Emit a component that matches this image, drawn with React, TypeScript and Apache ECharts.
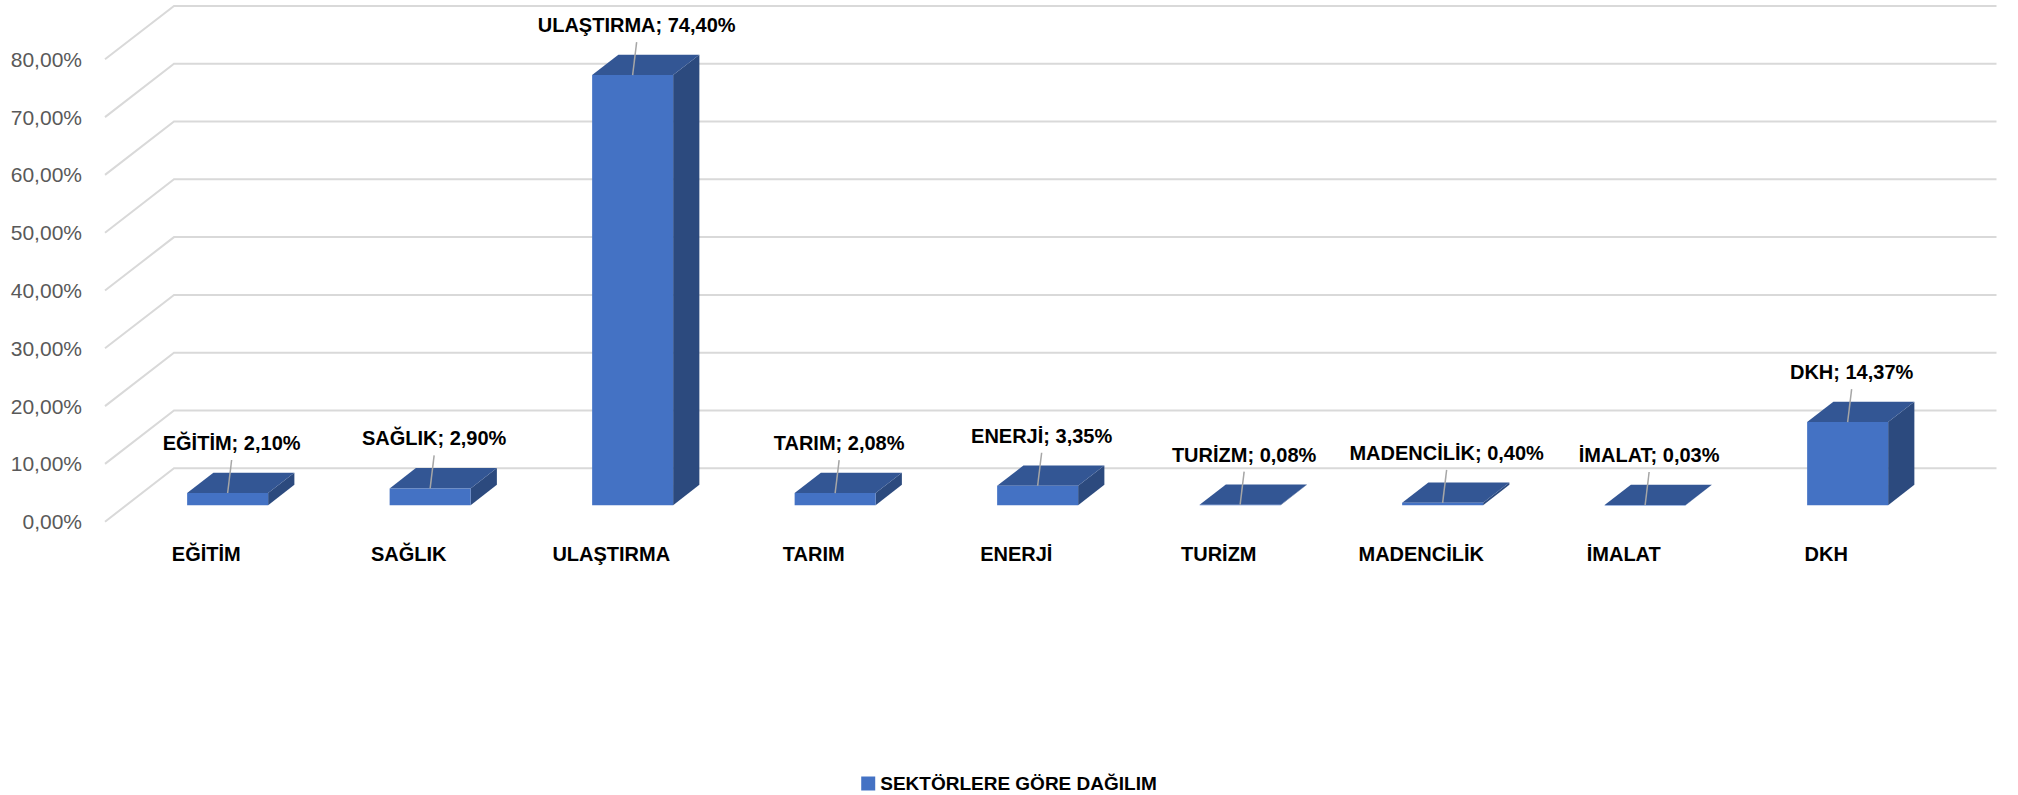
import React, { useEffect, useRef } from "react";
import * as echarts from "echarts";

const categories = ["EĞİTİM", "SAĞLIK", "ULAŞTIRMA", "TARIM", "ENERJİ", "TURİZM", "MADENCİLİK", "İMALAT", "DKH"];
const values = [2.1, 2.9, 74.4, 2.08, 3.35, 0.08, 0.4, 0.03, 14.37];
const yTicks = [0, 10, 20, 30, 40, 50, 60, 70, 80];
const seriesName = "SEKTÖRLERE GÖRE DAĞILIM";

const FONT = "'Liberation Sans', Arial, sans-serif";
const DX = 69; // floor depth offset x
const DY = -53.4; // floor depth offset y
const D0 = 0.31;
const D1 = 0.69;
const BAR_W = 0.4;

const fmt = (v: number) => v.toFixed(2).replace(".", ",") + "%";

export default function App() {
  const ref = useRef<HTMLDivElement>(null);
  useEffect(() => {
    document.body.style.margin = "0";
    const chart = echarts.init(ref.current!, null, { renderer: "svg" });
    const option: any = {
      animation: false,
      backgroundColor: "#ffffff",
      grid: { left: 105, top: 59.3, width: 1822.5, height: 462.4 },
      legend: {
        data: [seriesName],
        left: "center",
        top: 769,
        icon: "rect",
        itemWidth: 14,
        itemHeight: 14,
        textStyle: { fontFamily: FONT, fontSize: 19, fontWeight: "bold", color: "#000" },
      },
      xAxis: {
        type: "category",
        data: categories,
        axisLine: { show: false },
        axisTick: { show: false },
        splitLine: { show: false },
        axisLabel: { fontFamily: FONT, fontSize: 20, fontWeight: "bold", color: "#000", margin: 22, interval: 0 },
      },
      yAxis: {
        type: "value",
        min: 0,
        max: 80,
        interval: 10,
        axisLine: { show: false },
        axisTick: { show: false },
        splitLine: { show: false },
        axisLabel: { fontFamily: FONT, fontSize: 21, color: "#595959", margin: 23, formatter: (v: number) => fmt(v) },
      },
      series: [
        {
          type: "custom",
          name: "grid3d",
          z: 1,
          clip: false,
          silent: true,
          data: yTicks.map((v) => [0, v]),
          renderItem: (params: any, api: any) => {
            const v = api.value(1);
            const c = api.coord([0, v]);
            const band = api.size([1, 0])[0];
            const x0 = c[0] - band / 2;
            const y0 = c[1];
            const xEnd = x0 + DX + band * categories.length;
            return {
              type: "polyline",
              shape: { points: [[x0, y0], [x0 + DX, y0 + DY], [xEnd, y0 + DY]] },
              style: { stroke: "#D9D9D9", lineWidth: 2, fill: "none" },
            };
          },
        },
        {
          type: "custom",
          name: seriesName,
          z: 2,
          clip: false,
          itemStyle: { color: "#4472C4" },
          data: values.map((v, i) => [i, v]),
          renderItem: (params: any, api: any) => {
            const i = api.value(0);
            const v = api.value(1);
            const c0 = api.coord([i, 0]);
            const c1 = api.coord([i, v]);
            const band = api.size([1, 0])[0];
            const w = band * BAR_W;
            const xL = c0[0] - w / 2 + D0 * DX;
            const yBot = c0[1] + D0 * DY;
            const yTop = c1[1] + D0 * DY;
            const ddx = (D1 - D0) * DX;
            const ddy = (D1 - D0) * DY;
            const cx = xL + w / 2;
            const lx = cx + 4;
            const ly = yTop - 50;
            return {
              type: "group",
              children: [
                {
                  type: "polygon",
                  shape: { points: [[xL + w, yTop], [xL + w, yBot], [xL + w + ddx, yBot + ddy], [xL + w + ddx, yTop + ddy]] },
                  style: { fill: "#2C4A7E" },
                },
                {
                  type: "polygon",
                  shape: { points: [[xL, yTop], [xL + w, yTop], [xL + w + ddx, yTop + ddy], [xL + ddx, yTop + ddy]] },
                  style: { fill: "#335694" },
                },
                {
                  type: "rect",
                  shape: { x: xL, y: yTop, width: w, height: Math.max(yBot - yTop, 0.5) },
                  style: { fill: "#4472C4" },
                },
                {
                  type: "line",
                  shape: { x1: cx, y1: yTop, x2: lx, y2: ly + 17 },
                  style: { stroke: "#A6A6A6", lineWidth: 1.5 },
                },
                {
                  type: "text",
                  style: {
                    text: categories[i] + "; " + fmt(v),
                    x: lx,
                    y: ly,
                    align: "center",
                    verticalAlign: "middle",
                    fontFamily: FONT,
                    fontSize: 20,
                    fontWeight: "bold",
                    fill: "#000",
                  },
                },
              ],
            };
          },
        },
      ],
    };
    chart.setOption(option);
    return () => chart.dispose();
  }, []);
  return <div ref={ref} style={{ width: 2018, height: 795 }} />;
}
